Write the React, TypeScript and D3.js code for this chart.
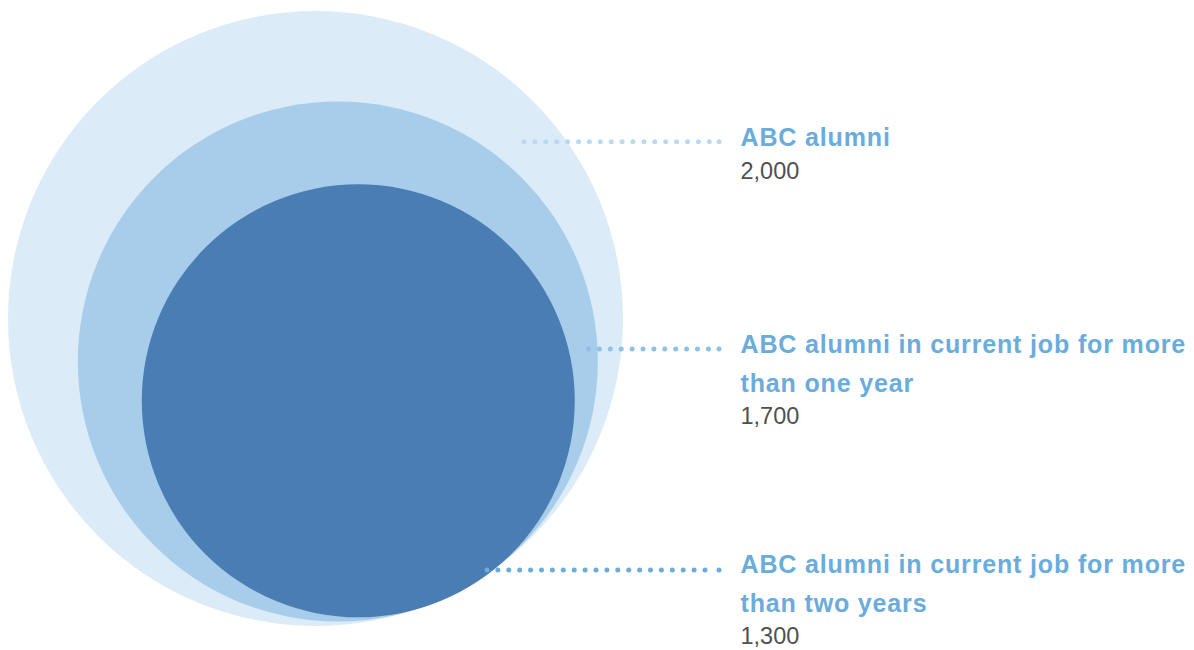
import React from "react";
import * as d3 from "d3";

// ---- data ----
const categories = [
  "ABC alumni",
  "ABC alumni in current job for more than one year",
  "ABC alumni in current job for more than two years",
];
const titleLines = [
  ["ABC alumni"],
  ["ABC alumni in current job for more", "than one year"],
  ["ABC alumni in current job for more", "than two years"],
];
const values = [2000, 1700, 1300];

// ---- layout / style ----
const W = 1194;
const H = 650;
const circleColors = ["#dbebf7", "#a7cdeb", "#4a7db3"];
const dotColors = ["#b6dbf1", "#8dc2e6", "#6aaddc"];
const labelColor = "#6aacdc";
const numberColor = "#505050";
const bigCenter = { x: 315.5, y: 318.5 };
const tangentDir = { x: 0.47, y: 0.905 };
const labelX = 740.5;
const titleBaselines = [146, 353.3, 573.3];
const leaderY = [141.7, 349, 570];
const leaderStart = [524, 588.5, 487];
const leaderEnd = 719;
const dotGap = 10.9;
const lineHeight = 38.4;
const numberGap = 32.5;

const rScale = d3
  .scaleLinear()
  .domain([1300, 1700, 2000])
  .range([216.5, 260, 307.5]);

const fmt = d3.format(",");

export default function App() {
  const R = rScale(values[0]);
  const circles = values.map((v, i) => {
    const r = rScale(v);
    const off = R - r;
    return {
      r,
      cx: bigCenter.x + tangentDir.x * off,
      cy: bigCenter.y + tangentDir.y * off,
      color: circleColors[i],
    };
  });

  const font = "'Liberation Sans', Arial, Helvetica, sans-serif";

  return (
    <svg
      width={W}
      height={H}
      style={{ position: "absolute", left: 0, top: 0, background: "#fff" }}
    >
      {circles.map((c, i) => (
        <circle key={"c" + i} cx={c.cx} cy={c.cy} r={c.r} fill={c.color} />
      ))}
      {values.map((v, i) => {
        const xs = d3
          .range(leaderStart[i], leaderEnd - 4, dotGap)
          .concat([leaderEnd]);
        return (
          <g key={"l" + i}>
            {xs.map((x, k) => (
              <circle
                key={k}
                cx={x}
                cy={leaderY[i]}
                r={2.5}
                fill={dotColors[i]}
              />
            ))}
          </g>
        );
      })}
      {categories.map((cat, i) => {
        const lines = titleLines[i];
        const base = titleBaselines[i];
        const numY = base + (lines.length - 1) * lineHeight + numberGap;
        return (
          <g key={"t" + i} fontFamily={font}>
            <text
              x={labelX}
              y={base}
              fill={labelColor}
              fontWeight="bold"
              fontSize={25}
              letterSpacing={0.85}
            >
              {lines.map((ln, k) => (
                <tspan key={k} x={labelX} y={base + k * lineHeight}>
                  {ln}
                </tspan>
              ))}
            </text>
            <text
              x={labelX}
              y={numY}
              fill={numberColor}
              fontSize={23.5}
              letterSpacing={0}
            >
              {fmt(values[i])}
            </text>
          </g>
        );
      })}
    </svg>
  );
}
